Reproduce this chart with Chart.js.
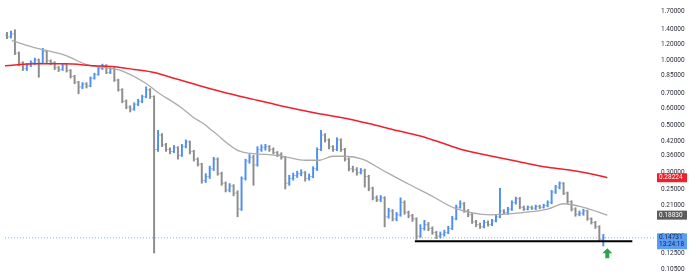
<!DOCTYPE html>
<html>
<head>
<meta charset="utf-8">
<script src="https://cdn.jsdelivr.net/npm/chart.js@4.4.1/dist/chart.umd.min.js"></script>
<style>
  html, body { margin: 0; padding: 0; background: #fff; }
  #wrap { width: 690px; height: 276px; }
</style>
</head>
<body>
<div id="wrap"><canvas id="chart"></canvas></div>
<script>
// bar data, one entry per bar (oldest first)
const closes = [
  1.297, 1.338, 1.086, 0.978, 0.919, 0.958, 0.978, 1.009, 0.978, 1.109,
  0.999, 0.978, 0.929, 0.910, 0.958, 0.900, 0.845, 0.794, 0.754, 0.778,
  0.762, 0.828, 0.863, 0.919, 0.948, 0.881, 0.919, 0.811, 0.731, 0.645,
  0.606, 0.593, 0.625, 0.645, 0.679, 0.731, 0.679, 0.383, 0.448, 0.403,
  0.383, 0.375, 0.391, 0.360, 0.395, 0.416, 0.375, 0.345, 0.327, 0.274,
  0.286, 0.311, 0.345, 0.295, 0.266, 0.247, 0.258, 0.239, 0.201, 0.280,
  0.338, 0.352, 0.324, 0.383, 0.391, 0.395, 0.383, 0.371, 0.363, 0.352,
  0.266, 0.280, 0.289, 0.295, 0.298, 0.280, 0.286, 0.311, 0.383, 0.448,
  0.425, 0.395, 0.383, 0.425, 0.383, 0.345, 0.311, 0.308, 0.298, 0.304,
  0.286, 0.252, 0.227, 0.222, 0.227, 0.185, 0.197, 0.181, 0.189, 0.216,
  0.194, 0.187, 0.181, 0.150, 0.163, 0.170, 0.163, 0.156, 0.150, 0.153,
  0.156, 0.163, 0.181, 0.205, 0.213, 0.197, 0.189, 0.175, 0.170, 0.166,
  0.174, 0.170, 0.177, 0.185, 0.197, 0.194, 0.201, 0.216, 0.225, 0.205,
  0.201, 0.205, 0.203, 0.207, 0.205, 0.209, 0.216, 0.242, 0.255, 0.266,
  0.239, 0.218, 0.201, 0.190, 0.192, 0.197, 0.181, 0.174, 0.166, 0.145,
  0.14731
];
const highs = [
  1.36, 1.38, 1.40, 1.10, 0.99, 0.97, 1.00, 1.03, 1.02, 1.144,
  1.12, 1.01, 0.99, 0.94, 0.97, 0.965, 0.91, 0.855, 0.80, 0.79,
  0.79, 0.84, 0.875, 0.935, 0.965, 0.96, 0.93, 0.93, 0.82, 0.74,
  0.655, 0.615, 0.635, 0.66, 0.69, 0.754, 0.74, 0.685, 0.471, 0.455,
  0.41, 0.39, 0.40, 0.395, 0.405, 0.425, 0.42, 0.38, 0.35, 0.33,
  0.295, 0.32, 0.352, 0.35, 0.30, 0.27, 0.265, 0.262, 0.245, 0.285,
  0.345, 0.363, 0.36, 0.395, 0.403, 0.405, 0.40, 0.39, 0.375, 0.37,
  0.355, 0.29, 0.297, 0.303, 0.308, 0.302, 0.294, 0.318, 0.39, 0.471,
  0.455, 0.43, 0.40, 0.435, 0.43, 0.388, 0.35, 0.32, 0.315, 0.312,
  0.31, 0.29, 0.255, 0.232, 0.233, 0.23, 0.203, 0.20, 0.194, 0.227,
  0.22, 0.197, 0.19, 0.183, 0.17, 0.178, 0.174, 0.166, 0.158, 0.157,
  0.16, 0.167, 0.186, 0.21, 0.22, 0.216, 0.20, 0.192, 0.178, 0.173,
  0.178, 0.177, 0.18, 0.19, 0.252, 0.20, 0.205, 0.22, 0.229, 0.228,
  0.208, 0.208, 0.208, 0.21, 0.21, 0.212, 0.22, 0.246, 0.26, 0.27,
  0.268, 0.242, 0.22, 0.204, 0.197, 0.201, 0.199, 0.183, 0.176, 0.168,
  0.153
];
const lows = [
  1.27, 1.28, 1.07, 0.95, 0.90, 0.90, 0.94, 0.96, 0.837, 0.97,
  0.98, 0.96, 0.91, 0.89, 0.90, 0.885, 0.83, 0.78, 0.70, 0.74,
  0.745, 0.755, 0.82, 0.855, 0.91, 0.87, 0.87, 0.80, 0.72, 0.635,
  0.595, 0.575, 0.585, 0.615, 0.635, 0.67, 0.665, 0.125, 0.375, 0.395,
  0.375, 0.365, 0.37, 0.345, 0.355, 0.39, 0.365, 0.338, 0.32, 0.266,
  0.268, 0.28, 0.305, 0.29, 0.26, 0.242, 0.242, 0.232, 0.185, 0.198,
  0.275, 0.33, 0.26, 0.32, 0.375, 0.38, 0.375, 0.365, 0.355, 0.345,
  0.25, 0.26, 0.275, 0.283, 0.288, 0.272, 0.275, 0.282, 0.305, 0.378,
  0.415, 0.385, 0.375, 0.378, 0.375, 0.338, 0.304, 0.30, 0.29, 0.294,
  0.255, 0.245, 0.222, 0.218, 0.218, 0.166, 0.182, 0.177, 0.177, 0.186,
  0.19, 0.183, 0.176, 0.145, 0.148, 0.16, 0.159, 0.153, 0.146, 0.147,
  0.15, 0.154, 0.161, 0.179, 0.203, 0.194, 0.185, 0.172, 0.166, 0.163,
  0.164, 0.167, 0.168, 0.175, 0.183, 0.19, 0.19, 0.198, 0.212, 0.202,
  0.198, 0.199, 0.20, 0.20, 0.202, 0.203, 0.206, 0.213, 0.238, 0.25,
  0.235, 0.214, 0.197, 0.186, 0.187, 0.188, 0.178, 0.171, 0.163, 0.142,
  0.135
];
const firstOpen = 1.32;

// moving averages, sampled at bar index positions
const slowMaIdx = [-0.5, 7, 14.5, 22, 27, 32, 37, 42, 47, 54, 62, 69.4, 77.6, 84.4, 91, 97, 101, 105.6, 109.3, 114.3, 122, 129.3, 135.5, 141, 146.8, 151];
const slowMa = [0.948, 0.968, 0.968, 0.948, 0.938, 0.910, 0.881, 0.828, 0.778, 0.716, 0.659, 0.612, 0.569, 0.540, 0.507, 0.476, 0.457, 0.434, 0.412, 0.383, 0.356, 0.334, 0.317, 0.308, 0.295, 0.28224];
const fastMaIdx = [1.2, 7.7, 14.5, 20.2, 24.5, 28.7, 35.2, 37.7, 43.7, 47, 49.4, 51.9, 58.7, 65.2, 69.4, 75.1, 78.6, 81.9, 84.9, 89.4, 94.4, 101.1, 106.8, 112.6, 121.8, 127.6, 136, 140, 145, 151];
const fastMa = [1.243, 1.144, 1.063, 0.958, 0.929, 0.900, 0.778, 0.716, 0.605, 0.540, 0.507, 0.465, 0.375, 0.363, 0.356, 0.341, 0.341, 0.356, 0.356, 0.345, 0.307, 0.263, 0.232, 0.203, 0.189, 0.192, 0.201, 0.213, 0.205, 0.18830];

const yTicks = [1.7, 1.4, 1.2, 1.0, 0.85, 0.7, 0.6, 0.5, 0.42, 0.36, 0.3, 0.25, 0.21, 0.15, 0.125, 0.105];
const supportLevel = 0.142;
const supportRange = [102.6, 157.3];
const lastPrice = 0.14731;
const countdown = "13:24:18";
const slowMaLast = 0.28224;
const fastMaLast = 0.18830;
const arrowAt = { x: 151, y: 0.126 };

const UP = "#4f8ff0";
const DOWN = "#8c8c8c";

const opens = closes.map((c, i) => (i === 0 ? firstOpen : closes[i - 1]));
const barColors = closes.map((c, i) => (c >= opens[i] ? UP : DOWN));
const tickColors = closes.map((c, i) => (c >= opens[i] ? "#a9c8f7" : "#c4c4c4"));

const tagPlugin = {
  id: "tags",
  afterDraw(chart) {
    const { ctx, scales } = chart;
    const y = scales.y;
    const left = chart.chartArea.right + 2;
    const w = 30;
    ctx.save();
    ctx.font = "6.5px Roboto";
    ctx.textBaseline = "middle";
    ctx.textAlign = "left";

    const tag = (value, bg, fg, extra) => {
      const py = y.getPixelForValue(value);
      const h = extra ? 16 : 9;
      const top = extra ? py - 4.5 : py - h / 2;
      ctx.fillStyle = bg;
      ctx.fillRect(left, top, w, h);
      ctx.fillStyle = fg;
      ctx.fillText(value.toFixed(5), left + 2, top + 4.5);
      if (extra) ctx.fillText(extra, left + 2, top + 11.5);
    };
    tag(slowMaLast, "#f0202a", "#fff");
    tag(fastMaLast, "#5c5c5c", "#fff");
    tag(lastPrice, "#5b9cf6", "#10243f", countdown);

    // green arrow under the last bar
    const ax = scales.x.getPixelForValue(arrowAt.x);
    const ay = y.getPixelForValue(arrowAt.y);
    ctx.fillStyle = "#2fa34f";
    ctx.beginPath();
    ctx.moveTo(ax, ay - 4);
    ctx.lineTo(ax + 5, ay + 1);
    ctx.lineTo(ax + 2, ay + 1);
    ctx.lineTo(ax + 2, ay + 6);
    ctx.lineTo(ax - 2, ay + 6);
    ctx.lineTo(ax - 2, ay + 1);
    ctx.lineTo(ax - 5, ay + 1);
    ctx.closePath();
    ctx.fill();
    ctx.restore();
  }
};

new Chart(document.getElementById("chart"), {
  type: "bar",
  data: {
    datasets: [
      {
        type: "line",
        data: slowMaIdx.map((x, i) => ({ x, y: slowMa[i] })),
        borderColor: "#f0202a",
        borderWidth: 1.5,
        pointRadius: 0,
        cubicInterpolationMode: "monotone",
        order: 0
      },
      {
        type: "line",
        data: fastMaIdx.map((x, i) => ({ x, y: fastMa[i] })),
        borderColor: "#ababab",
        borderWidth: 1.3,
        pointRadius: 0,
        cubicInterpolationMode: "monotone",
        order: 1
      },
      {
        type: "line",
        data: supportRange.map((x) => ({ x, y: supportLevel })),
        borderColor: "#000",
        borderWidth: 2,
        pointRadius: 0,
        order: 0
      },
      {
        type: "line",
        data: [{ x: -0.5, y: lastPrice }, { x: 163, y: lastPrice }],
        borderColor: "#7fb2f7",
        borderWidth: 1,
        borderDash: [1, 2],
        pointRadius: 0,
        order: 4
      },
      {
        type: "bar",
        data: closes.map((c, i) => ({ x: i, y: [lows[i], highs[i]] })),
        backgroundColor: barColors,
        barThickness: 1.3,
        grouped: false,
        order: 2
      },
      {
        type: "scatter",
        data: opens.map((o, i) => ({ x: i - 0.3, y: o })),
        pointStyle: "line",
        pointRadius: 1,
        borderWidth: 1,
        borderColor: tickColors,
        order: 3
      },
      {
        type: "scatter",
        data: closes.map((c, i) => ({ x: i + 0.3, y: c })),
        pointStyle: "line",
        pointRadius: 1,
        borderWidth: 1,
        borderColor: tickColors,
        order: 3
      }
    ]
  },
  options: {
    responsive: true,
    maintainAspectRatio: false,
    animation: false,
    layout: { padding: 0 },
    plugins: { legend: { display: false }, tooltip: { enabled: false } },
    scales: {
      x: { type: "linear", display: false, min: -0.5, max: 163, offset: false },
      y: {
        type: "logarithmic",
        position: "right",
        min: 0.1029,
        max: 1.829,
        grid: { display: false, drawTicks: false },
        border: { display: false },
        ticks: {
          autoSkip: false,
          padding: 6,
          color: "#2a2e39",
          font: { family: "Roboto", size: 6.5 },
          callback: (v) => Number(v).toFixed(5)
        },
        afterBuildTicks: (s) => { s.ticks = yTicks.map((v) => ({ value: v })); },
        afterFit: (s) => { s.width = 35; s.paddingTop = 0; s.paddingBottom = 0; }
      }
    }
  },
  plugins: [tagPlugin]
});
</script>
</body>
</html>
